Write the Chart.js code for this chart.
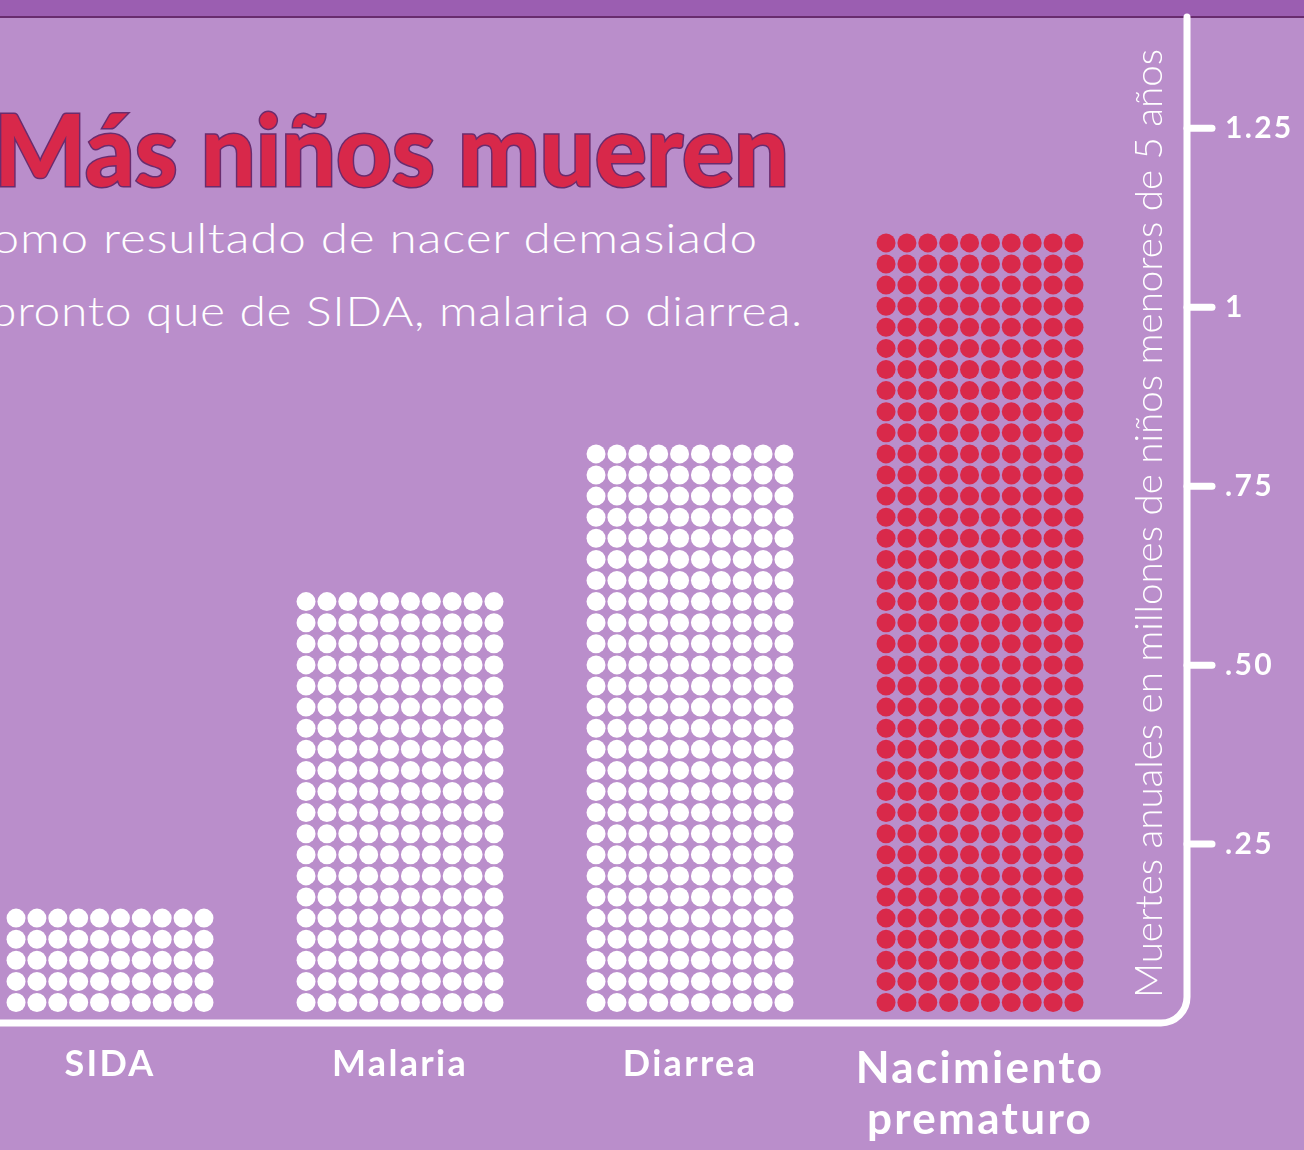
<!DOCTYPE html>
<html><head><meta charset="utf-8">
<script src="https://cdn.jsdelivr.net/npm/chart.js@4.4.1/dist/chart.umd.min.js"></script>
<style>
html,body{margin:0;padding:0;width:1304px;height:1150px;overflow:hidden;background:#BA8ECB;}
#band{position:absolute;left:0;top:0;width:1304px;height:16px;background:#9B5EB1;border-bottom:2px solid #682C6E;z-index:1;}
#title{position:absolute;left:0;top:87px;line-height:120px;font-family:Lato,sans-serif;font-weight:900;font-size:100px;color:#D8284A;-webkit-text-stroke:3px #6A2C6E;paint-order:stroke fill;white-space:nowrap;z-index:1;}
.sub{position:absolute;left:0;line-height:50.4px;font-family:Lato,sans-serif;font-weight:300;font-size:42px;letter-spacing:0.6px;color:#fff;white-space:nowrap;z-index:1;}
#s1{top:212px;}
#s2{top:285px;}
#wrap{position:absolute;left:0;top:0;width:1304px;height:1150px;z-index:2;}
</style></head>
<body>
<div id="band"></div>
<div id="title">Más niños mueren</div>
<div class="sub" id="s1">como resultado de nacer demasiado</div>
<div class="sub" id="s2">pronto que de SIDA, malaria o diarrea.</div>
<div id="wrap"><canvas id="c" width="1304" height="1150"></canvas></div>
<script>
const categories = ['SIDA', 'Malaria', 'Diarrea', 'Nacimiento prematuro'];
const categoryLabels = [['SIDA'], ['Malaria'], ['Diarrea'], ['Nacimiento', 'prematuro']];
const deathsMillions = [0.16, 0.60, 0.81, 1.10];
const dotColors = ['#FFFFFF', '#FFFFFF', '#FFFFFF', '#D9294A'];
const yTickValues = [0.25, 0.5, 0.75, 1, 1.25];
const yTickLabels = ['.25', '.50', '.75', '1', '1.25'];
const yAxisTitle = 'Muertes anuales en millones de niños menores de 5 años';

function fitText(id, left, right) {
  const el = document.getElementById(id);
  el.style.left = left + 'px';
  const w = el.getBoundingClientRect().width;
  el.style.transformOrigin = '0 0';
  el.style.transform = 'scaleX(' + ((right - left) / w) + ')';
}
fitText('title', -6, 789);
fitText('s1', -32, 758);
fitText('s2', -10, 803);

const spacingPlugin = {
  id: 'spacing',
  beforeDraw(chart) { chart.ctx.letterSpacing = '2.3px'; }
};

const dotPlugin = {
  id: 'dots',
  afterDatasetsDraw(chart) {
    const ctx = chart.ctx;
    const meta = chart.getDatasetMeta(0);
    const ds = chart.data.datasets[0];
    ctx.save();
    meta.data.forEach((bar, i) => {
      const p = bar.getProps(['x', 'y', 'base', 'width'], true);
      const px = p.width / 10;
      const py = 21.1;
      const rows = Math.round((p.base - p.y - py / 2) / py);
      const r = 9.5;
      ctx.fillStyle = ds.dotColors[i];
      for (let rr = 0; rr < rows; rr++) {
        for (let c = 0; c < 10; c++) {
          const cx = p.x - p.width / 2 + px * (c + 0.5);
          const cy = p.base - 20.5 - py * rr;
          ctx.beginPath();
          ctx.arc(cx, cy, r, 0, Math.PI * 2);
          ctx.fill();
        }
      }
    });
    ctx.restore();
  }
};

const axisPlugin = {
  id: 'axisL',
  afterDraw(chart) {
    const ctx = chart.ctx;
    const { right, bottom } = chart.chartArea;
    const R = 26;
    ctx.save();
    ctx.letterSpacing = '0px';
    ctx.strokeStyle = '#FFFFFF';
    ctx.lineWidth = 7;
    ctx.lineCap = 'round';
    ctx.beginPath();
    ctx.moveTo(-10, bottom);
    ctx.lineTo(right - R, bottom);
    ctx.arcTo(right, bottom, right, bottom - R, R);
    ctx.lineTo(right, 17);
    ctx.stroke();
    const ys = chart.scales.y;
    yTickValues.forEach(v => {
      const y = ys.getPixelForValue(v);
      ctx.beginPath();
      ctx.moveTo(right, y);
      ctx.lineTo(right + 25, y);
      ctx.stroke();
    });
    ctx.fillStyle = '#FFFFFF';
    ctx.font = '300 38px Lato, sans-serif';
    const w = ctx.measureText(yAxisTitle).width;
    const target = 949;
    ctx.translate(right - 25, bottom - 25);
    ctx.rotate(-Math.PI / 2);
    ctx.scale(target / w, 1);
    ctx.textAlign = 'left';
    ctx.textBaseline = 'alphabetic';
    ctx.fillText(yAxisTitle, 0, 0);
    ctx.restore();
  }
};

new Chart(document.getElementById('c'), {
  type: 'bar',
  data: {
    datasets: [{
      data: deathsMillions.map((v, i) => ({ x: i, y: v })),
      backgroundColor: 'rgba(0,0,0,0)',
      borderWidth: 0,
      barPercentage: 0.9,
      categoryPercentage: 0.8,
      dotColors: dotColors
    }]
  },
  options: {
    responsive: false,
    animation: false,
    layout: { padding: { top: 21, left: 0, right: 0, bottom: 0 } },
    plugins: { legend: { display: false }, tooltip: { enabled: false } },
    scales: {
      x: {
        type: 'linear', min: -0.3793, max: 3.7138, offset: false,
        grid: { display: false, drawTicks: false, offset: false },
        border: { display: false },
        afterBuildTicks: s => { s.ticks = categories.map((c, i) => ({ value: i })); },
        afterFit: s => { s.height = 127; s.paddingLeft = 0; s.paddingRight = 0; },
        ticks: {
          autoSkip: false, maxRotation: 0, minRotation: 0, padding: 20, color: '#FFFFFF',
          font: c => c.index === 3
            ? { family: 'Lato, sans-serif', weight: 'bold', size: 44, lineHeight: 1.16 }
            : { family: 'Lato, sans-serif', weight: 'bold', size: 36, lineHeight: 1.2 },
          callback: v => categoryLabels[v]
        }
      },
      y: {
        position: 'right', min: 0, max: 1.4,
        grid: { display: false, drawTicks: false },
        border: { display: false },
        afterBuildTicks: s => { s.ticks = yTickValues.map(v => ({ value: v })); },
        afterFit: s => { s.width = 117; s.paddingTop = 0; s.paddingBottom = 0; },
        ticks: {
          padding: 38, color: '#FFFFFF',
          font: { family: 'Lato, sans-serif', weight: 'bold', size: 30 },
          callback: v => yTickLabels[yTickValues.indexOf(v)]
        }
      }
    }
  },
  plugins: [spacingPlugin, dotPlugin, axisPlugin]
});
</script>
</body></html>
